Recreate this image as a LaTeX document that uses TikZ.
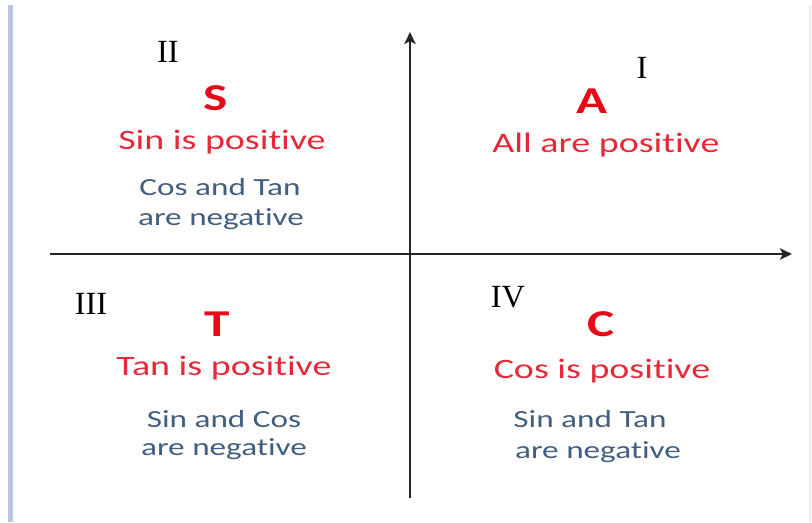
\documentclass[tikz,border=0pt]{standalone}
\usepackage{fontspec}
\usepackage{xcolor}
\setmainfont{Liberation Serif}
\newfontfamily\calibri[FakeStretch=1.35, Ligatures=NoCommon]{Carlito}
\usetikzlibrary{arrows.meta, positioning}

\definecolor{letterred}{RGB}{230,10,22}
\definecolor{posred}{RGB}{228,42,56}
\definecolor{neggray}{RGB}{66,94,126}
\definecolor{frameblue}{RGB}{184,198,224}

\begin{document}
\begin{tikzpicture}[
  x=0.025cm, y=-0.025cm,
  >={Stealth[length=8.5pt, width=8pt, inset=2pt]},
  axis/.style={line width=2pt, black!85},
  quadnum/.style={font=\fontsize{23}{23}\selectfont, anchor=base, inner sep=0pt},
  bigletter/.style={font=\calibri\bfseries\fontsize{27}{27}\selectfont, text=letterred, anchor=base, inner sep=0pt},
  postext/.style={font=\calibri\fontsize{20}{20}\selectfont, text=posred, anchor=base, inner sep=0pt},
  negtext/.style={font=\calibri\fontsize{17.5}{17.5}\selectfont, text=neggray, anchor=base, inner sep=0pt},
]
  \useasboundingbox (0,0) rectangle (812,522);

  % frame
  \draw[frameblue, line width=3pt] (10.5,5) -- (10.5,522);
  \draw[black!8, line width=1.2pt] (810,5) -- (810,522);

  % axes
  \coordinate (xstart) at (50,254);
  \coordinate (xend) at (792,254);
  \coordinate (ystart) at (410,498);
  \coordinate (yend) at (410,32);
  \draw[axis, ->] (xstart) -- (xend);
  \draw[axis, ->] (ystart) -- (yend);

  % quadrant numbers
  \node[quadnum] (qone) at (642,78) {I};
  \node[quadnum] (qtwo) at (168,62) {II};
  \node[quadnum] (qthree) at (91,314) {III};
  \node[quadnum] (qfour) at (508,307) {IV};

  % quadrant II
  \node[bigletter] (sletter) at (216,110) {S};
  \node[postext] (spos) at (222,149) {Sin is positive};
  \node[negtext] (sneg) at (220,195) {Cos and Tan};
  \node[negtext] (snegb) at (221,225) {are negative};

  % quadrant I
  \node[bigletter] (aletter) at (592,113) {A};
  \node[postext] (apos) at (606,152) {All are positive};

  % quadrant III
  \node[bigletter] (tletter) at (217,336) {T};
  \node[postext] (tpos) at (224,375) {Tan is positive};
  \node[negtext] (tneg) at (224,427) {Sin and Cos};
  \node[negtext] (tnegb) at (224,455) {are negative};

  % quadrant IV
  \node[bigletter] (cletter) at (601,336) {C};
  \node[postext] (cpos) at (602,378) {Cos is positive};
  \node[negtext] (cneg) at (590,427) {Sin and Tan};
  \node[negtext] (cnegb) at (598,458) {are negative};
\end{tikzpicture}
\end{document}
